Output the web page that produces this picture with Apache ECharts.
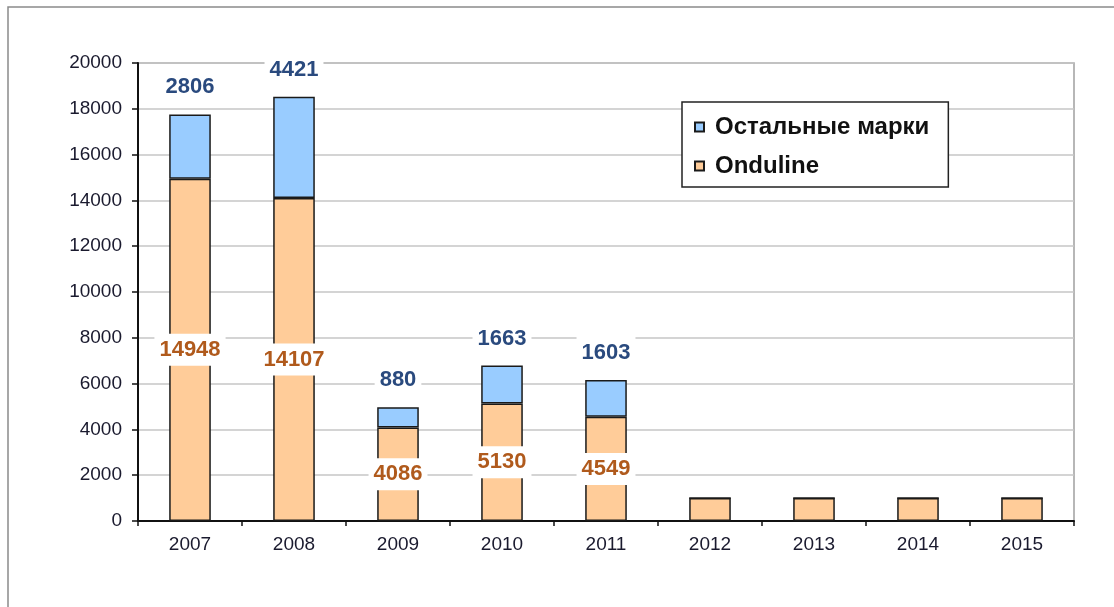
<!DOCTYPE html>
<html>
<head>
<meta charset="utf-8">
<script src="https://cdn.jsdelivr.net/npm/echarts@6/dist/echarts.min.js"></script>
<style>
html,body{margin:0;padding:0;background:#fff;}
#chart{width:1114px;height:607px;}
</style>
</head>
<body>
<div id="chart"></div>
<script>
var categories = ['2007','2008','2009','2010','2011','2012','2013','2014','2015'];
var ondulineValues = [14948, 14107, 4086, 5130, 4549, 1000, 1000, 1000, 1000];
var otherValues = [2806, 4421, 880, 1663, 1603, 0, 0, 0, 0];
var yTicks = {min: 0, max: 20000, interval: 2000};
var seriesNames = {other: 'Остальные марки', onduline: 'Onduline'};

var chart = echarts.init(document.getElementById('chart'), null, {renderer: 'canvas'});

function labelled(i) { return otherValues[i] > 0; }

var ondulineData = ondulineValues.map(function (v, i) {
  return labelled(i) ? v : {value: v, label: {show: false}};
});
var otherData = otherValues.map(function (v, i) {
  return labelled(i) ? v : {value: v, label: {show: false}};
});

var option = {
  backgroundColor: '#fff',
  animation: false,
  graphic: [{
    type: 'rect',
    shape: {x: 8, y: 7, width: 1130, height: 640},
    style: {fill: 'none', stroke: '#8a8a8a', lineWidth: 1.5},
    silent: true
  }],
  grid: {
    left: 138, right: 40, top: 63, bottom: 86,
    show: true, borderColor: '#a0a0a0', borderWidth: 1.5, backgroundColor: 'transparent'
  },
  legend: {
    orient: 'vertical',
    left: 682, top: 102,
    padding: [13, 19, 9, 12],
    backgroundColor: '#fff',
    borderColor: '#222',
    borderWidth: 1.5,
    itemWidth: 9, itemHeight: 9,
    itemGap: 15,
    icon: 'rect',
    data: [seriesNames.other, seriesNames.onduline],
    textStyle: {fontFamily: 'Arial, Liberation Sans', fontSize: 24, fontWeight: 'bold', color: '#111', lineHeight: 24, padding: [0, 0, 0, 6]}
  },
  xAxis: {
    type: 'category',
    data: categories,
    axisLine: {lineStyle: {color: '#111', width: 2}},
    axisTick: {show: true, alignWithLabel: false, length: 5, lineStyle: {color: '#111', width: 1.5}},
    axisLabel: {fontFamily: 'Arial, Liberation Sans', fontSize: 19, color: '#1a1a2e', margin: 14},
    splitLine: {show: false}
  },
  yAxis: {
    type: 'value',
    min: yTicks.min, max: yTicks.max, interval: yTicks.interval,
    axisLine: {show: true, lineStyle: {color: '#111', width: 2}},
    axisTick: {show: true, length: 6, lineStyle: {color: '#111', width: 1.5}},
    axisLabel: {fontFamily: 'Arial, Liberation Sans', fontSize: 19, color: '#1a1a2e', margin: 16, formatter: function (v) { return String(v); }},
    splitLine: {show: true, lineStyle: {color: '#c6c6c6', width: 1.5}}
  },
  series: [
    {
      name: seriesNames.onduline,
      type: 'bar',
      stack: 'total',
      barWidth: '40%',
      data: ondulineData,
      itemStyle: {color: '#FFCC99', borderColor: '#1a1a1a', borderWidth: 1.5},
      label: {
        show: true,
        position: 'inside',
        fontFamily: 'Arial, Liberation Sans',
        fontSize: 22,
        fontWeight: 'bold',
        color: '#B05A1C',
        backgroundColor: '#fff',
        padding: [5, 5, 5, 5]
      }
    },
    {
      name: seriesNames.other,
      type: 'bar',
      stack: 'total',
      barWidth: '40%',
      data: otherData,
      itemStyle: {color: '#99CCFF', borderColor: '#1a1a1a', borderWidth: 1.5},
      label: {
        show: true,
        position: 'top',
        distance: 11,
        fontFamily: 'Arial, Liberation Sans',
        fontSize: 22,
        fontWeight: 'bold',
        color: '#2A4A7E',
        backgroundColor: '#fff',
        padding: [5, 5, 5, 5]
      }
    }
  ]
};
chart.setOption(option);
</script>
</body>
</html>
